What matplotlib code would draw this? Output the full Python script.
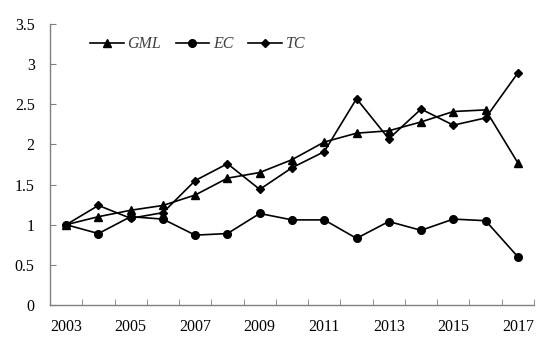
import matplotlib.pyplot as plt
import numpy as np

plt.rcParams['font.family'] = ['Liberation Serif', 'DejaVu Serif']

years = list(range(2003, 2018))
gml = [1.00, 1.10, 1.18, 1.24, 1.37, 1.58, 1.65, 1.81, 2.03, 2.14, 2.17, 2.28, 2.41, 2.43, 1.77]
ec = [1.00, 0.89, 1.10, 1.07, 0.87, 0.89, 1.14, 1.06, 1.06, 0.83, 1.04, 0.93, 1.07, 1.05, 0.60]
tc = [1.00, 1.24, 1.08, 1.15, 1.55, 1.76, 1.44, 1.71, 1.91, 2.57, 2.07, 2.44, 2.24, 2.33, 2.89]

x = np.arange(len(years))

fig = plt.figure(figsize=(5.5, 3.39), dpi=100)
ax = fig.add_axes([50/550, 34/339, 484/550, 281/339])

ax.plot(x, gml, color='black', lw=1.2, marker='^', ms=5.5, label='GML')
ax.plot(x, ec, color='black', lw=1.2, marker='o', ms=5.5, label='EC')
ax.plot(x, tc, color='black', lw=1.2, marker='D', ms=4, label='TC')

ax.set_xlim(-0.5, len(years) - 0.5)
ax.set_ylim(0, 3.5)
ax.set_yticks(np.arange(0, 3.51, 0.5))
ax.set_yticklabels(['0', '0.5', '1', '1.5', '2', '2.5', '3', '3.5'])
ax.set_xticks(x[::2])
ax.set_xticklabels([str(y) for y in years[::2]])
ax.set_xticks(np.arange(-0.5, len(years), 1), minor=True)

for s in ['top', 'right']:
    ax.spines[s].set_visible(False)
for s in ['left', 'bottom']:
    ax.spines[s].set_color('#808080')
    ax.spines[s].set_linewidth(1.0)

ax.tick_params(axis='x', which='major', length=0, pad=10, labelsize=11.5)
ax.tick_params(axis='x', which='minor', direction='in', length=4, color='#808080')
ax.tick_params(axis='y', direction='in', length=4, color='#808080', pad=11, labelsize=11.5)

leg = ax.legend(loc='upper left', bbox_to_anchor=(0.053, 1.007), ncol=3, frameon=False,
                handlelength=2.1, columnspacing=0.9, handletextpad=0.25,
                prop={'style': 'italic', 'size': 11.5})
for t in leg.get_texts():
    t.set_color('#404040')

fig.savefig('out.png', dpi=100)
